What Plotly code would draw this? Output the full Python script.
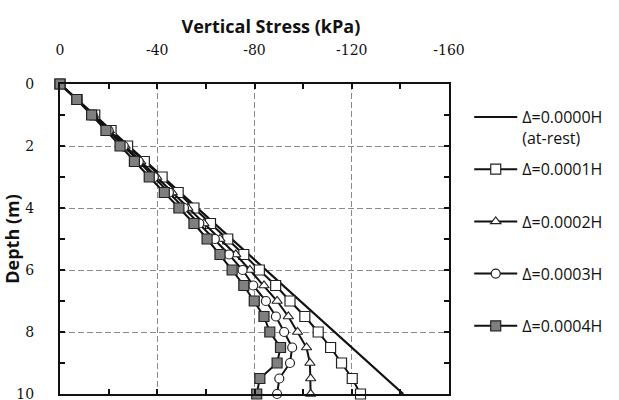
import plotly.graph_objects as go

depth = [0, 0.5, 1, 1.5, 2, 2.5, 3, 3.5, 4, 4.5, 5, 5.5, 6, 6.5, 7, 7.5, 8, 8.5, 9, 9.5, 10]

atrest_depth = [0, 10]
atrest_stress = [0, -141.2]

s_0001 = [0, -7.0, -14.3, -21.0, -27.8, -34.7, -42.0, -48.6, -55.1, -61.9, -69.0,
          -75.6, -82.0, -88.7, -94.6, -100.7, -106.2, -111.3, -115.8, -120.2, -123.6]
s_0002 = [0, -7.0, -13.8, -20.3, -26.8, -33.2, -39.8, -46.2, -52.6, -59.2, -65.8,
          -72.3, -78.1, -83.9, -89.3, -93.9, -97.7, -101.4, -102.8, -103.1, -103.1]
s_0003 = [0, -7.0, -13.5, -20.0, -26.2, -32.4, -38.6, -44.8, -51.0, -57.3, -63.7,
          -69.5, -75.1, -79.5, -84.7, -88.8, -92.2, -95.5, -94.6, -90.2, -89.3]
s_0004 = [0, -6.9, -13.0, -18.9, -24.7, -30.6, -36.7, -42.9, -48.9, -55.1, -60.5,
          -65.8, -70.8, -75.6, -79.9, -83.9, -86.3, -90.7, -89.3, -82.2, -80.9]

x_tickvals = [0, -40, -80, -120, -160]
x_ticktext = ["0", "-40", "-80", "-120", "-160"]
y_tickvals = [0, 2, 4, 6, 8, 10]

names = ["Δ=0.0000H<br>(at-rest)", "Δ=0.0001H<br> ", "Δ=0.0002H<br> ", "Δ=0.0003H<br> ", "Δ=0.0004H<br> "]

fig = go.Figure()
fig.add_trace(go.Scatter(x=atrest_stress, y=atrest_depth, mode="lines", name=names[0], legendgroup="g0",
                         line=dict(color="#111111", width=2.2), cliponaxis=False))
fig.add_trace(go.Scatter(x=s_0001, y=depth, mode="lines+markers", name=names[1], legendgroup="g1",
                         line=dict(color="#111111", width=2),
                         marker=dict(symbol="square", size=10, color="white",
                                     line=dict(color="#222222", width=1.2)), cliponaxis=False))
fig.add_trace(go.Scatter(x=s_0002, y=depth, mode="lines+markers", name=names[2], legendgroup="g2",
                         line=dict(color="#111111", width=2),
                         marker=dict(symbol="triangle-up", size=9, color="white",
                                     line=dict(color="#222222", width=1.2)), cliponaxis=False))
fig.add_trace(go.Scatter(x=s_0003, y=depth, mode="lines+markers", name=names[3], legendgroup="g3",
                         line=dict(color="#111111", width=2),
                         marker=dict(symbol="circle", size=9, color="white",
                                     line=dict(color="#222222", width=1.2)), cliponaxis=False))
fig.add_trace(go.Scatter(x=s_0004, y=depth, mode="lines+markers", name=names[4], legendgroup="g4",
                         line=dict(color="#111111", width=2),
                         marker=dict(symbol="square", size=10, color="#7f7f7f",
                                     line=dict(color="#222222", width=1.2)), cliponaxis=False))

tick_font = dict(family="DejaVu Serif", size=14, color="#111111")
title_font = dict(family="Open Sans", size=18, color="#111111", weight="bold")

fig.update_layout(
    width=619, height=400,
    margin=dict(l=60, r=170, t=84, b=6, autoexpand=False),
    paper_bgcolor="white", plot_bgcolor="white",
    showlegend=True,
    legend=dict(x=1.052, y=0.948, xanchor="left", yanchor="top", valign="top",
                font=dict(family="Open Sans", size=16, color="#111111"),
                itemwidth=43, tracegroupgap=7.6, bgcolor="rgba(0,0,0,0)"),
    xaxis=dict(side="top", range=[0, -160], tickvals=x_tickvals, ticktext=x_ticktext,
               tickfont=tick_font, ticks="inside", ticklen=5, tickwidth=1.5, tickcolor="#111111",
               minor=dict(ticks="inside", dtick=20, tick0=0, ticklen=5, tickwidth=1.5, tickcolor="#111111", showgrid=False),
               showline=True, linecolor="#111111", linewidth=2, mirror="allticks",
               showgrid=True, gridcolor="#8a8a8a", gridwidth=1, griddash="6px,3px",
               zeroline=False, ticklabelstandoff=21, ticklabeloverflow="allow", automargin=False,
               title=dict(text="&nbsp;&nbsp;&nbsp;&nbsp;&nbsp;&nbsp;&nbsp;Vertical Stress (kPa)", font=title_font, standoff=4)),
    yaxis=dict(range=[10, 0], tickvals=y_tickvals,
               tickfont=tick_font, ticks="inside", ticklen=5, tickwidth=1.5, tickcolor="#111111",
               minor=dict(ticks="inside", dtick=1, tick0=0, ticklen=5, tickwidth=1.5, tickcolor="#111111", showgrid=False),
               showline=True, linecolor="#111111", linewidth=2, mirror="allticks",
               showgrid=True, gridcolor="#8a8a8a", gridwidth=1, griddash="6px,3px",
               zeroline=False, ticklabelstandoff=21, ticklabeloverflow="allow", automargin=False,
               title=dict(text="Depth (m)", font=title_font, standoff=0)),
)

fig.write_html("out.html")
